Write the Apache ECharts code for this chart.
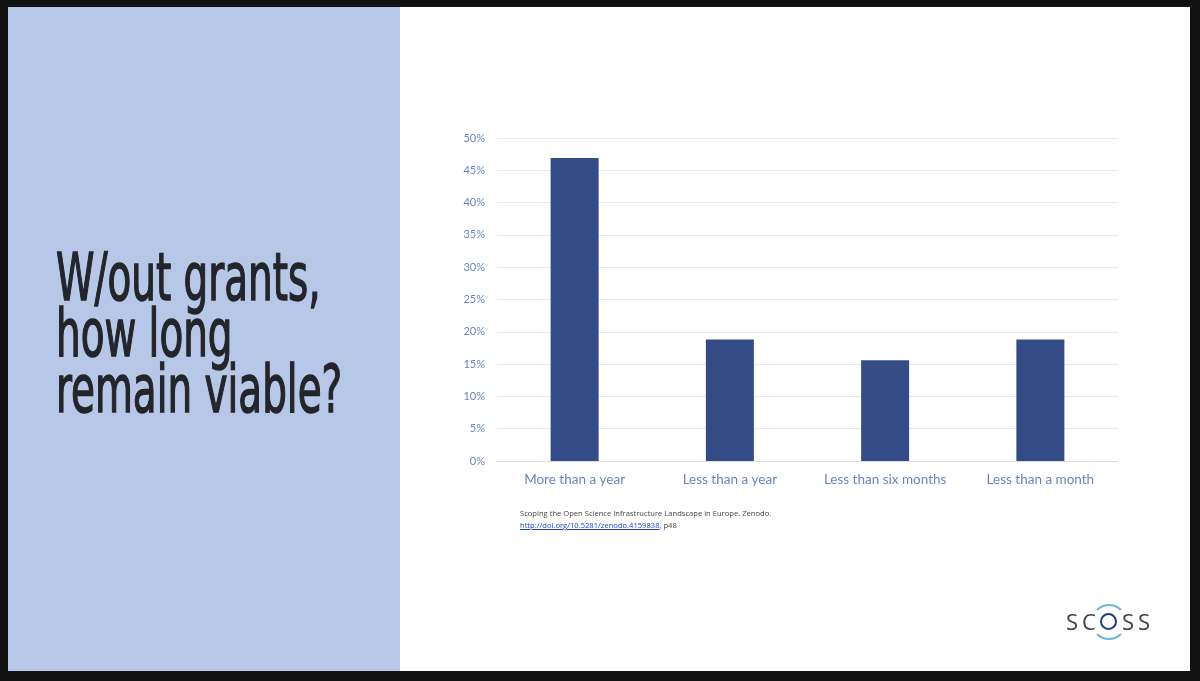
<!DOCTYPE html>
<html>
<head>
<meta charset="utf-8">
<script src="https://cdn.jsdelivr.net/npm/echarts@6/dist/echarts.min.js"></script>
<style>
  html, body { margin: 0; padding: 0; background: #111; width: 1200px; height: 681px; overflow: hidden; }
  #slide { position: absolute; left: 8px; top: 7px; width: 1182px; height: 664px; background: #fff; }
  #side { position: absolute; left: 0; top: 0; width: 392px; height: 664px; background: #b7c7e7; }
  #title { position: absolute; left: 56px; top: 250px; font-family: "DejaVu Sans Condensed", "DejaVu Sans", sans-serif;
           font-size: 66px; line-height: 56px; color: #24252a; -webkit-text-stroke: 1.4px #24252a;
           transform: scaleX(0.655); transform-origin: 0 0; white-space: nowrap; }
  #chart { position: absolute; left: 0; top: 0; width: 1200px; height: 681px; }
  #cite { position: absolute; left: 520px; top: 507px; font-family: "Open Sans", sans-serif; font-size: 7.6px; line-height: 12px; color: #444; }
  #cite a { color: #1a3fd0; text-decoration: underline; }
  #logo { position: absolute; left: 1066px; top: 606px; font-family: "Open Sans", sans-serif; font-size: 22px; color: #3f3f44; letter-spacing: 4px; }
  #logo .o { display: inline-block; position: relative; width: 18px; height: 18px; margin: 0 4px 0 0; vertical-align: -1px; }
  #logo .ring { position: absolute; left: 0; top: 0; width: 13px; height: 13px; border: 2.5px solid #1f3e87; border-radius: 50%; }
  #logo .arcs { position: absolute; left: -9px; top: -9px; width: 32px; height: 32px; border: 2px solid #6bb6dc; border-left-color: transparent; border-right-color: transparent; border-radius: 50%; }
</style>
</head>
<body>
<div id="slide">
  <div id="side"></div>
</div>
<div id="title">W/out grants,<br>how long<br>remain viable?</div>
<div id="chart"></div>
<div id="cite">Scoping the Open Science Infrastructure Landscape in Europe. Zenodo.<br><a>http://doi.org/10.5281/zenodo.4159838</a>, p48</div>
<div id="logo">SC<span class="o"><span class="arcs"></span><span class="ring"></span></span>SS</div>
<script>
// survey answers: how long would the infrastructure stay viable without grants
const categories = ['More than a year', 'Less than a year', 'Less than six months', 'Less than a month'];
const shares = [46.9, 18.8, 15.6, 18.8];
const yTicks = [0, 5, 10, 15, 20, 25, 30, 35, 40, 45, 50];

const chart = echarts.init(document.getElementById('chart'));
const labelColor = '#6a84c2';

chart.setOption({
  animation: false,
  grid: { left: 497, top: 138, width: 621, height: 323 },
  xAxis: {
    type: 'category',
    data: categories,
    axisTick: { show: false },
    axisLine: { lineStyle: { color: '#dcdde3', width: 1 } },
    axisLabel: { interval: 0, color: labelColor, fontFamily: 'Lato', fontSize: 13.5, margin: 12 }
  },
  yAxis: {
    type: 'value',
    min: yTicks[0],
    max: yTicks[yTicks.length - 1],
    interval: 5,
    axisLine: { show: false },
    axisTick: { show: false },
    splitLine: { lineStyle: { color: '#e8e9ee', width: 1 } },
    axisLabel: { color: labelColor, fontFamily: 'Lato', fontSize: 11, margin: 12, formatter: '{value}%' }
  },
  series: [{
    type: 'bar',
    data: shares,
    barWidth: 48,
    itemStyle: { color: '#344c86' }
  }]
});
</script>
</body>
</html>
